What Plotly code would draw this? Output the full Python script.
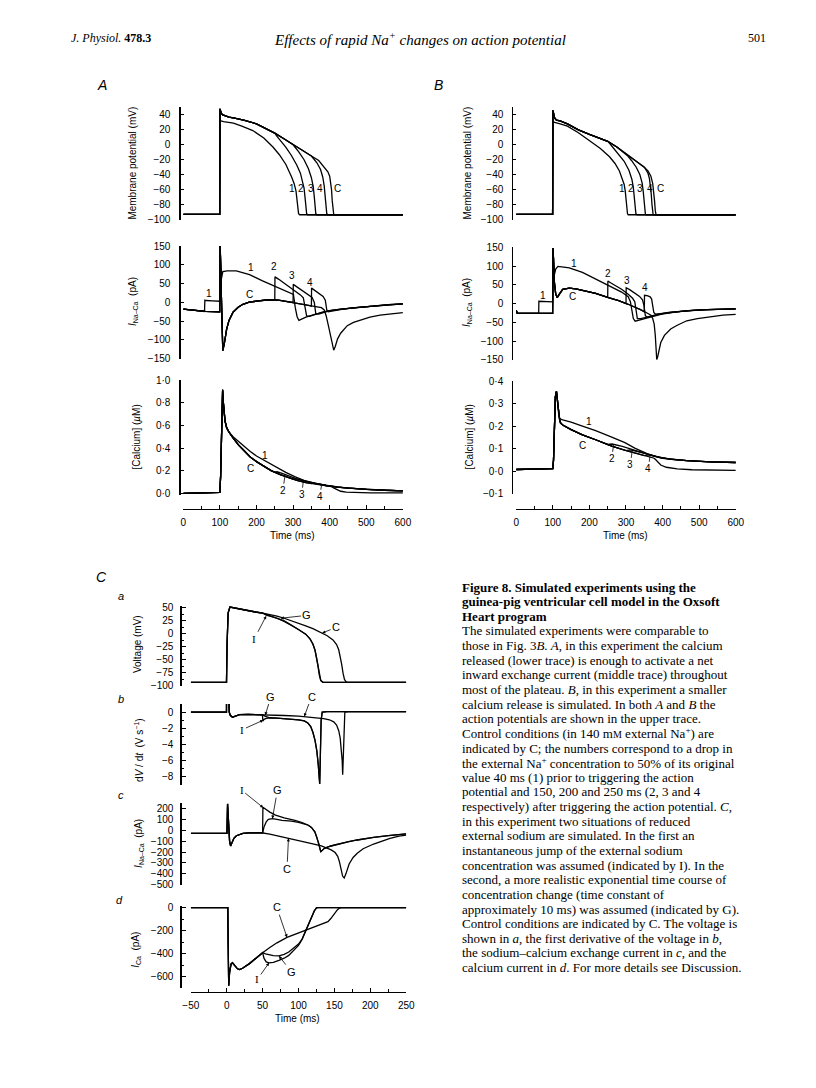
import plotly.graph_objects as go

W, H = 816, 1088


def fx(px):
    return px / W


def fy(py):
    return 1 - py / H


# ======================= DATA =======================
# ---------- Panel A : membrane potential (mV) ----------
VA_C_t = [0, 99.5, 100.3, 101.5, 104, 108, 115, 125, 140, 165, 200, 225, 250, 275, 300, 325, 350, 370, 386,
          395, 400, 403, 405, 407, 409, 411, 414, 600]
VA_C_v = [-93, -93, 48, 46, 42, 40, 38.5, 37, 35.5, 33, 28, 22, 15.5, 8, 0, -7, -15, -21, -30,
          -36, -42, -50, -60, -75, -88, -93, -93.5, -93.5]
VA_1_t = [0, 99.5, 100.3, 103, 110, 125, 137, 160, 190, 220, 245, 262, 280, 296, 303, 308, 311, 313, 315, 318, 600]
VA_1_v = [-93, -93, 33, 32, 31, 30, 29, 25, 19, 9, -3, -13, -26, -43, -52, -62, -75, -87, -92, -93.5, -93.5]
VA_2_t = [250, 255, 265, 280, 295, 310, 320, 326, 330, 333, 335, 337, 340, 600]
VA_2_v = [15.5, 12, 6, -3, -14, -27, -38, -48, -58, -72, -85, -92, -93.5, -93.5]
VA_3_t = [300, 305, 315, 330, 342, 350, 355, 358, 360, 362, 365, 600]
VA_3_v = [0, -3, -9, -20, -32, -44, -56, -70, -85, -92, -93.5, -93.5]
VA_4_t = [350, 355, 365, 375, 381, 385, 388, 390, 392, 395, 600]
VA_4_v = [-15, -18, -24, -33, -43, -55, -70, -85, -92, -93.5, -93.5]

# ---------- Panel A : I Na-Ca (pA) ----------
IA_C_t = [0, 30, 60, 99.5, 100.8, 104, 108, 112, 118.5, 125, 136, 150, 163, 180, 199, 234, 260, 288, 315, 342, 365,
          377.5, 385, 390.5, 396, 402, 407, 411, 415, 421.6, 430, 448, 465, 484, 510, 537.7, 570, 600]
IA_C_v = [-18, -21, -24, -25, 150, 20, -128, -110, -71, -48, -26, -13, -5, 1, 3.5, 7, 6, 2, -3, -8, -12,
          -14, -20, -36, -60, -88, -115, -127, -118, -97, -82, -62, -53, -46.5, -39, -34, -30, -27]
IA_1_t = [0, 30, 58, 59, 62, 80, 99.5, 100.8, 104, 108, 120, 145, 181, 215, 248, 275, 301, 306, 311, 316, 322,
          335, 359, 380, 395, 420, 450, 484, 520, 560, 600]
IA_1_v = [-18, -21, -24, 6, 5, 4, 3, 150, 62, 82, 84, 84, 74, 58, 43, 31, 21, -14, -38, -48, -45,
          -39, -32, -26, -23, -19, -16, -14, -10, -6, -4]
IA_2_t = [250, 250.5, 260, 275, 290, 305, 320, 328, 333, 337, 345, 360, 380, 400, 430, 470, 520, 560, 600]
IA_2_v = [6, 68, 62, 52, 42, 31, 20, 12, -10, -36, -37, -32, -26, -22, -18, -14, -10, -6, -4]
IA_3_t = [300, 300.5, 310, 325, 340, 352, 358, 362, 370, 385, 400, 430, 470, 520, 560, 600]
IA_3_v = [0, 48, 42, 32, 22, 13, 0, -30, -31, -26, -22, -18, -14, -10, -6, -4]
IA_4_t = [350, 350.5, 360, 372, 382, 388, 392, 396, 405, 420, 440, 470, 520, 560, 600]
IA_4_v = [-10, 38, 32, 24, 16, 6, -20, -25, -23, -20, -17, -14, -10, -6, -4]

# ---------- Panel A : [Calcium] (uM) ----------
CA_C_t = [0, 50, 100, 102, 104, 106, 107.5, 109, 111, 114, 118.5, 125, 136, 150, 165, 183, 200, 217, 240, 265,
          290, 310, 335, 360, 385, 405, 412, 420, 430, 445, 470, 510, 560, 600]
CA_C_v = [0, 0.003, 0.008, 0.15, 0.55, 0.88, 0.91, 0.82, 0.72, 0.64, 0.58, 0.54, 0.49, 0.43, 0.38, 0.32, 0.28,
          0.245, 0.2, 0.165, 0.135, 0.115, 0.095, 0.08, 0.068, 0.058, 0.045, 0.03, 0.018, 0.01, 0.006, 0.004,
          0.003, 0.003]
CA_1_t = [0, 50, 100, 102, 104, 106, 107.5, 109, 111, 114, 118.5, 125, 136, 150, 165, 183, 200, 222, 250, 280,
          306, 330, 359, 390, 420, 450, 500, 550, 600]
CA_1_v = [0, 0.003, 0.008, 0.15, 0.55, 0.88, 0.92, 0.82, 0.72, 0.64, 0.58, 0.54, 0.5, 0.46, 0.42, 0.37, 0.33,
          0.29, 0.235, 0.185, 0.145, 0.115, 0.09, 0.07, 0.055, 0.045, 0.035, 0.027, 0.022]
CA_2_t = [250, 256, 270, 290, 310, 335, 360, 390, 420, 450, 500, 550, 600]
CA_2_v = [0.186, 0.19, 0.175, 0.15, 0.128, 0.105, 0.086, 0.069, 0.055, 0.045, 0.035, 0.027, 0.022]
CA_3_t = [300, 306, 320, 340, 360, 390, 420, 450, 500, 550, 600]
CA_3_v = [0.125, 0.13, 0.118, 0.1, 0.086, 0.069, 0.055, 0.045, 0.035, 0.027, 0.022]
CA_4_t = [350, 356, 370, 390, 420, 450, 500, 550, 600]
CA_4_v = [0.086, 0.09, 0.08, 0.069, 0.055, 0.045, 0.035, 0.027, 0.022]

# ---------- Panel B : membrane potential (mV) ----------
VB_C_t = [0, 99.5, 100.3, 102, 105, 110, 120, 140, 170, 200, 230, 250, 275, 300, 325, 350, 360, 368, 373, 376,
          378, 380, 382, 385, 600]
VB_C_v = [-93, -93, 46, 40, 36, 33, 32, 28, 20, 14, 8, 4.7, -3, -12, -20, -30, -35, -42, -52, -62,
          -75, -88, -93, -93.5, -93.5]
VB_1_t = [0, 99.5, 100.3, 105, 120, 140, 170, 200, 230, 255, 270, 282, 290, 295, 298, 300, 302, 304, 306, 600]
VB_1_v = [-93, -93, 31, 30, 28, 25, 16, 6, -5, -16, -25, -35, -45, -53, -62, -72, -85, -92, -93.5, -93.5]
VB_2_t = [250, 255, 265, 280, 295, 308, 316, 320, 323, 325, 327, 330, 600]
VB_2_v = [4.7, 2, -4, -12, -22, -34, -46, -57, -70, -84, -92, -93.5, -93.5]
VB_3_t = [300, 305, 315, 328, 338, 344, 347, 349, 351, 353, 356, 600]
VB_3_v = [-12, -15, -21, -30, -40, -51, -62, -75, -88, -93, -93.5, -93.5]
VB_4_t = [350, 354, 360, 364, 367, 369, 371, 372.5, 374, 377, 600]
VB_4_v = [-30, -33, -38, -45, -55, -66, -80, -90, -93, -93.5, -93.5]

# ---------- Panel B : I Na-Ca (pA) ----------
IB_C_t = [0, 3, 30, 60, 99.5, 100.8, 104, 108, 112, 118, 127, 145, 163, 190, 217, 252, 280, 306, 325, 341, 355,
          368, 373, 377, 380, 382, 384, 387, 390, 395, 405, 422, 440, 466, 495, 528.7, 565, 600]
IB_C_v = [-18, -26, -26, -26, -26, 148, 60, 25, 16, 25, 38, 41, 39, 33, 27, 16, 8, -2, -9, -17, -24,
          -31, -40, -55, -85, -125, -150, -140, -125, -104, -85, -68, -58, -46, -40, -35, -31, -29]
IB_1_t = [0, 3, 30, 61.5, 62, 80, 99.5, 100.8, 104, 108, 114, 130, 145, 181, 217, 252, 288, 306, 312, 316.5,
          320, 325, 335, 359, 380, 395, 420, 450, 500, 550, 600]
IB_1_v = [-18, -26, -26, -26, 6, 5, 4.5, 148, 75, 92, 99, 97, 95, 83, 66, 48, 30.6, 18, 5, -20,
          -40, -47, -44, -38, -33, -29, -25, -21, -17, -15, -14]
IB_2_t = [250, 250.5, 260, 275, 288, 306, 318, 324, 327, 331, 340, 359, 380, 400, 430, 470, 520, 600]
IB_2_v = [16.5, 60, 54, 45, 38, 24.5, 14, 5, -20, -40, -40, -36, -31, -27, -23, -19, -16, -14]
IB_3_t = [300, 300.5, 310, 325, 337, 345, 349, 353, 358, 370, 390, 420, 470, 520, 600]
IB_3_v = [0, 42, 37, 28, 19, 10, -5, -33, -36, -33, -28, -23, -19, -16, -14]
IB_4_t = [350, 350.5, 358, 366, 370, 373, 376, 380, 390, 410, 440, 480, 530, 600]
IB_4_v = [-22, 22, 21, 18, 12, -5, -24, -28, -27, -24, -21, -18, -16, -14]

# ---------- Panel B : [Calcium] (uM) ----------
CB_C_t = [0, 50, 100, 102, 104, 107, 110, 113, 116, 118.6, 121, 127, 150, 181, 217, 261, 306, 340, 359, 377,
          382, 387, 395, 410, 440, 480, 528, 600]
CB_C_v = [0.008, 0.009, 0.012, 0.05, 0.2, 0.33, 0.355, 0.3, 0.25, 0.23, 0.215, 0.205, 0.185, 0.162, 0.14,
          0.112, 0.089, 0.075, 0.067, 0.058, 0.05, 0.04, 0.028, 0.018, 0.011, 0.007, 0.005, 0.004]
CB_1_t = [0, 50, 100, 102, 104, 107, 110, 113, 116, 118.6, 121, 127, 150, 181, 217, 261, 297, 324, 359, 395,
          430, 466, 530, 600]
CB_1_v = [0.008, 0.009, 0.012, 0.05, 0.2, 0.33, 0.355, 0.3, 0.255, 0.238, 0.232, 0.228, 0.218, 0.2, 0.18,
          0.152, 0.127, 0.103, 0.077, 0.06, 0.052, 0.047, 0.042, 0.039]
CB_2_t = [250, 262, 290, 327, 350, 380, 420, 466, 530, 600]
CB_2_v = [0.119, 0.121, 0.111, 0.092, 0.08, 0.066, 0.054, 0.047, 0.042, 0.039]
CB_3_t = [300, 312, 340, 360, 390, 420, 466, 530, 600]
CB_3_v = [0.092, 0.095, 0.084, 0.075, 0.063, 0.054, 0.047, 0.042, 0.039]
CB_4_t = [350, 362, 380, 400, 430, 466, 530, 600]
CB_4_v = [0.07, 0.073, 0.066, 0.058, 0.052, 0.047, 0.042, 0.039]

# ---------- Panel C a : voltage (mV) ----------
VC_C_t = [-50, -0.3, 0.5, 2, 4.5, 8, 13.5, 20, 31.7, 40, 50, 60, 70, 80, 90, 100, 110, 120, 130, 140, 148,
          153, 156, 158, 160, 162, 164, 166, 168, 250]
VC_C_v = [-93.5, -93.5, -20, 40, 51, 50, 48, 46, 43.5, 41.5, 39.5, 37, 33.5, 29.5, 25, 20.5, 15, 9.5, 3, -4,
          -12, -21, -31, -42, -58, -76, -88, -92, -93.5, -93.5]
VC_I_t = [50, 55, 60, 70, 80, 90, 100, 110, 116, 120, 123, 125, 127, 129, 131, 134, 250]
VC_I_v = [39.5, 35.5, 33.5, 29.5, 23.5, 16, 8, -1, -10, -20, -32, -45, -62, -80, -90, -93.5, -93.5]
VC_G_t = [50, 55, 60, 70, 80, 90, 100, 110, 116, 120, 123, 125, 127, 129, 131, 134, 250]
VC_G_v = [39.5, 37, 35, 30.5, 24.5, 16.5, 8, -1, -10, -20, -32, -45, -62, -80, -90, -93.5, -93.5]

# ---------- Panel C b : dV/dt (V/s) ----------
DC_C_t = [-50, -0.3, 0, 2.5, 3.5, 5, 8, 12, 18, 30, 45, 60, 80, 100, 113, 125, 135, 143, 149, 153, 156, 158,
          159.5, 160.8, 161.5, 162.5, 163.5, 164.5, 170, 250]
DC_C_v = [0, 0, 12, 12, 0, -0.4, -0.65, -0.5, -0.32, -0.28, -0.3, -0.35, -0.42, -0.5, -0.58, -0.68, -0.8,
          -0.95, -1.2, -1.6, -2.3, -3.2, -4.5, -6, -7.75, -5, -2, 0, 0.05, 0.05]
DC_I_t = [49.8, 50.3, 52, 55, 60, 70, 80, 90, 100, 108, 113, 117, 120, 123, 125.5, 127.5, 129.5, 130.5, 131.5,
          133, 140, 250]
DC_I_v = [-0.35, -1.1, -0.9, -0.78, -0.72, -0.74, -0.78, -0.84, -0.95, -1.1, -1.35, -1.8, -2.5, -3.5, -4.8,
          -6.5, -8.9, -5, -1, 0, 0.06, 0.05]
DC_G_t = [50, 53, 56, 60, 70, 80, 90, 100, 108, 113, 117, 120, 123, 125.5, 127.5, 129.5, 130.5, 131.5, 133,
          140, 250]
DC_G_v = [-0.35, -0.5, -0.62, -0.7, -0.74, -0.78, -0.84, -0.95, -1.1, -1.35, -1.8, -2.5, -3.5, -4.8, -6.5,
          -8.9, -5, -1, 0, 0.06, 0.05]

# ---------- Panel C c : I Na-Ca (pA) ----------
NC_C_t = [-50, 0.3, 1.2, 2.5, 4, 5.4, 7, 10, 13.5, 18, 22.6, 31.7, 40, 48.5, 60, 70, 80, 90, 100, 110, 120,
          131.8, 140, 145.5, 151, 154.6, 157, 159, 161.4, 163.6, 166, 170.5, 176, 181.8, 190, 204.6, 215, 227.4,
          240, 250]
NC_C_v = [-30, -30, 240, 60, -100, -145, -120, -75, -51, -38, -30, -25, -24, -24, -36, -50, -65, -80, -96,
          -112, -126, -145, -165, -181, -205, -240, -290, -350, -420, -437, -400, -310, -250, -211, -170, -127,
          -100, -75, -55, -45]
NC_I_t = [48.5, 50, 50.4, 55, 60, 68, 80, 95, 105, 113.6, 118, 122.7, 125, 128.2, 130, 131, 133, 136, 145,
          159, 170, 181.8, 195, 204.6, 225, 250]
NC_I_v = [-24, -24, 210, 185, 165, 137, 112, 90, 70, 45, 25, -15, -55, -121, -170, -198, -185, -166, -145,
          -121, -105, -90, -75, -66, -50, -34]
NC_G_t = [50, 52, 55, 58, 63.6, 70, 77, 90, 100, 110, 113.6, 118, 122.7, 125, 128.2, 130, 131, 133, 136, 145,
          159, 170, 181.8, 195, 204.6, 225, 250]
NC_G_v = [-24, 30, 75, 98, 106, 98, 90, 83, 72, 52, 45, 25, -15, -55, -121, -170, -198, -185, -166, -145,
          -121, -105, -90, -75, -66, -50, -34]

# ---------- Panel C d : I Ca (pA) ----------
KC_C_t = [-50, 1.5, 2, 2.8, 4, 6, 8, 11, 15, 18, 22, 31.7, 40, 50, 60, 70, 84, 95, 109, 122, 136, 141, 145,
          150, 154, 157, 160, 250]
KC_C_v = [0, 0, -300, -677, -560, -490, -478, -500, -530, -537, -525, -485, -440, -390, -345, -305, -258,
          -232, -200, -170, -135, -122, -95, -50, -20, -4, 0, 0]
KC_I_t = [50, 52, 55, 59, 65, 72.7, 80, 86.4, 93, 100, 105, 109, 113, 116, 119, 122, 125, 127, 250]
KC_I_v = [-390, -440, -470, -478, -475, -457, -438, -414, -375, -328, -275, -214, -150, -114, -65, -29, -3, 0, 0]
KC_G_t = [50, 54, 59, 65, 72.7, 80, 86.4, 93, 100, 105, 109, 113, 116, 119, 122, 125, 127, 250]
KC_G_v = [-390, -400, -408, -415, -418, -405, -385, -355, -316, -272, -214, -150, -114, -65, -29, -3, 0, 0]

# ---------- tick labels ----------
V_TICKS = [-100, -80, -60, -40, -20, 0, 20, 40]
I_TICKS = [-150, -100, -50, 0, 50, 100, 150]
CA_A_TICKS = [0, 0.2, 0.4, 0.6, 0.8, 1.0]
CA_A_TEXT = ['0·0', '0·2', '0·4', '0·6', '0·8', '1·0']
CA_B_TICKS = [-0.1, 0, 0.1, 0.2, 0.3, 0.4]
CA_B_TEXT = ['−0·1', '0·0', '0·1', '0·2', '0·3', '0·4']
T_AB_TICKS = [0, 100, 200, 300, 400, 500, 600]
C_V_TICKS = [-100, -75, -50, -25, 0, 25, 50]
C_D_TICKS = [-8, -6, -4, -2, 0]
C_N_TICKS = [-500, -400, -300, -200, -100, 0, 100, 200]
C_K_TICKS = [-600, -400, -200, 0]
T_C_TICKS = [-50, 0, 50, 100, 150, 200, 250]

# ======================= GEOMETRY =======================
# subplot: x range, x pixel span, y range, y pixel span (bottom, top), y-axis x pixel
SUB = {
    1: dict(xr=(0, 600), xp=(179, 403.3), yr=(-100, 50), yp=(216, 102.5), ax=175),
    2: dict(xr=(0, 600), xp=(179, 403.3), yr=(-150, 150), yp=(356.7, 242.7), ax=175),
    3: dict(xr=(0, 600), xp=(179, 403.3), yr=(-0.012, 1.0), yp=(494.1, 378.3), ax=175),
    4: dict(xr=(0, 600), xp=(519, 743.3), yr=(-100, 50), yp=(216, 102.5), ax=515),
    5: dict(xr=(0, 600), xp=(519, 743.3), yr=(-150, 150), yp=(357.7, 244), ax=515),
    6: dict(xr=(0, 600), xp=(519, 743.3), yr=(-0.1, 0.4), yp=(493.3, 379.3), ax=515),
    7: dict(xr=(-50, 250), xp=(186.7, 406.7), yr=(-100, 53), yp=(687.3, 606.7), ax=176),
    8: dict(xr=(-50, 250), xp=(186.7, 406.7), yr=(-9, 1), yp=(787.5, 705.8), ax=176),
    9: dict(xr=(-50, 250), xp=(186.7, 406.7), yr=(-500, 250), yp=(888.6, 805.7), ax=176),
    10: dict(xr=(-50, 250), xp=(186.7, 406.7), yr=(-700, 15), yp=(993.4, 909.9), ax=176),
}


def axn(k):
    return ('x', 'y') if k == 1 else (f'x{k}', f'y{k}')


def to_px(k, t, v):
    s = SUB[k]
    x = s['xp'][0] + (t - s['xr'][0]) / (s['xr'][1] - s['xr'][0]) * (s['xp'][1] - s['xp'][0])
    y = s['yp'][0] + (v - s['yr'][0]) / (s['yr'][1] - s['yr'][0]) * (s['yp'][1] - s['yp'][0])
    return x, y


def branch(tc, vc, tb, vb):
    pre = [(a, b) for a, b in zip(tc, vc) if a < tb[0]]
    return [a for a, _ in pre] + list(tb), [b for _, b in pre] + list(vb)


fig = go.Figure()


def add(k, t, v):
    xa, ya = axn(k)
    fig.add_trace(go.Scatter(x=t, y=v, mode='lines', line=dict(color='black', width=1.3),
                             xaxis=xa, yaxis=ya, showlegend=False, hoverinfo='skip'))


# Panel A
add(1, VA_C_t, VA_C_v)
add(1, VA_1_t, VA_1_v)
for tb, vb in [(VA_2_t, VA_2_v), (VA_3_t, VA_3_v), (VA_4_t, VA_4_v)]:
    add(1, *branch(VA_C_t, VA_C_v, tb, vb))
add(2, IA_C_t, IA_C_v)
add(2, IA_1_t, IA_1_v)
for tb, vb in [(IA_2_t, IA_2_v), (IA_3_t, IA_3_v), (IA_4_t, IA_4_v)]:
    add(2, *branch(IA_C_t, IA_C_v, tb, vb))
add(3, CA_C_t, CA_C_v)
add(3, CA_1_t, CA_1_v)
for tb, vb in [(CA_2_t, CA_2_v), (CA_3_t, CA_3_v), (CA_4_t, CA_4_v)]:
    add(3, *branch(CA_C_t, CA_C_v, tb, vb))
# Panel B
add(4, VB_C_t, VB_C_v)
add(4, VB_1_t, VB_1_v)
for tb, vb in [(VB_2_t, VB_2_v), (VB_3_t, VB_3_v), (VB_4_t, VB_4_v)]:
    add(4, *branch(VB_C_t, VB_C_v, tb, vb))
add(5, IB_C_t, IB_C_v)
add(5, IB_1_t, IB_1_v)
for tb, vb in [(IB_2_t, IB_2_v), (IB_3_t, IB_3_v), (IB_4_t, IB_4_v)]:
    add(5, *branch(IB_C_t, IB_C_v, tb, vb))
add(6, CB_C_t, CB_C_v)
add(6, CB_1_t, CB_1_v)
for tb, vb in [(CB_2_t, CB_2_v), (CB_3_t, CB_3_v), (CB_4_t, CB_4_v)]:
    add(6, *branch(CB_C_t, CB_C_v, tb, vb))
# Panel C
add(7, VC_C_t, VC_C_v)
add(7, *branch(VC_C_t, VC_C_v, VC_I_t, VC_I_v))
add(7, *branch(VC_C_t, VC_C_v, VC_G_t, VC_G_v))
add(8, DC_C_t, DC_C_v)
add(8, *branch(DC_C_t, DC_C_v, DC_I_t, DC_I_v))
add(8, *branch(DC_C_t, DC_C_v, DC_G_t, DC_G_v))
add(9, NC_C_t, NC_C_v)
add(9, *branch(NC_C_t, NC_C_v, NC_I_t, NC_I_v))
add(9, *branch(NC_C_t, NC_C_v, NC_G_t, NC_G_v))
add(10, KC_C_t, KC_C_v)
add(10, *branch(KC_C_t, KC_C_v, KC_I_t, KC_I_v))
add(10, *branch(KC_C_t, KC_C_v, KC_G_t, KC_G_v))

# ======================= AXES =======================
SANS = 'Liberation Sans, Arial, Helvetica, sans-serif'
SERIF = 'Liberation Serif, Times New Roman, serif'
TICKFONT = dict(family=SANS, size=10, color='black')

YTICKS = {
    1: dict(tickvals=V_TICKS),
    2: dict(tickvals=I_TICKS),
    3: dict(tickvals=CA_A_TICKS, ticktext=CA_A_TEXT),
    4: dict(tickvals=V_TICKS),
    5: dict(tickvals=I_TICKS),
    6: dict(tickvals=CA_B_TICKS, ticktext=CA_B_TEXT),
    7: dict(tickvals=C_V_TICKS, minor=dict(tickvals=[-87.5, -62.5, -37.5, -12.5, 12.5, 37.5], ticks='inside',
                                           ticklen=2.5, tickcolor='black')),
    8: dict(tickvals=C_D_TICKS, minor=dict(tickvals=[-9, -7, -5, -3, -1, 1], ticks='inside', ticklen=2.5,
                                           tickcolor='black')),
    9: dict(tickvals=C_N_TICKS),
    10: dict(tickvals=C_K_TICKS, minor=dict(tickvals=[-700, -500, -300, -100], ticks='inside', ticklen=2.5,
                                            tickcolor='black')),
}

layout_axes = {}
for k, s in SUB.items():
    xname = 'xaxis' if k == 1 else f'xaxis{k}'
    yname = 'yaxis' if k == 1 else f'yaxis{k}'
    xd = dict(domain=[fx(s['xp'][0]), fx(s['xp'][1])], range=list(s['xr']), showgrid=False, zeroline=False,
              fixedrange=True)
    if k in (3, 6, 10):
        if k == 10:
            tv, mv, pos = T_C_TICKS, [-25, 25, 75, 125, 175, 225], 996.7
        else:
            tv, mv, pos = T_AB_TICKS, [50, 150, 250, 350, 450, 550], 508.3
        xd.update(anchor='free', position=fy(pos), showline=True, linecolor='black', linewidth=1.2,
                  ticks='inside', ticklen=4, tickwidth=1, tickcolor='black', tickvals=tv,
                  minor=dict(tickvals=mv, ticks='inside', ticklen=2.5, tickcolor='black'),
                  tickfont=TICKFONT, ticklabelstandoff=4)
    else:
        xd.update(visible=False)
    layout_axes[xname] = xd
    yd = dict(domain=[fy(s['yp'][0]), fy(s['yp'][1])], range=list(s['yr']), anchor='free',
              position=fx(s['ax']), showline=True, linecolor='black', linewidth=1.2, ticks='inside',
              ticklen=4 if k >= 7 else 3, tickwidth=1, tickcolor='black', showgrid=False, zeroline=False,
              tickfont=TICKFONT, ticklabelstandoff=(5 if k >= 7 else 7), fixedrange=True)
    yd.update(YTICKS[k])
    layout_axes[yname] = yd

fig.update_layout(**layout_axes)

# ======================= ANNOTATIONS =======================
ann = []


def ptext(px, py, text, size=10, family=SANS, angle=0, xanchor='center', color='black'):
    ann.append(dict(xref='paper', yref='paper', x=fx(px), y=fy(py), text=text, showarrow=False,
                    xanchor=xanchor, yanchor='middle', textangle=angle,
                    font=dict(family=family, size=size, color=color)))


def dtext(k, t, v, text, size=10, family=SANS):
    xa, ya = axn(k)
    ann.append(dict(xref=xa, yref=ya, x=t, y=v, text=text, showarrow=False, xanchor='center',
                    yanchor='middle', font=dict(family=family, size=size, color='black')))


def arrow(k, t_tip, v_tip, t_lab, v_lab, text, size=11, family=SANS, head=2):
    xa, ya = axn(k)
    x0, y0 = to_px(k, t_tip, v_tip)
    x1, y1 = to_px(k, t_lab, v_lab)
    ann.append(dict(xref=xa, yref=ya, x=t_tip, y=v_tip, ax=x1 - x0, ay=y1 - y0, text=text, showarrow=True,
                    arrowhead=head, arrowsize=0.8, arrowwidth=0.8, arrowcolor='black', standoff=0,
                    font=dict(family=family, size=size, color='black')))


# header
ptext(105, 32, '<i>J. Physiol.</i> <b>478.3</b>', size=12, family=SERIF)
ptext(421, 33, '<i>Effects of rapid Na<sup>+</sup> changes on action potential</i>', size=15, family=SERIF)
ptext(765, 32, '501', size=12, family=SERIF)

# panel letters
ptext(96, 80, '<i>A</i>', size=14)
ptext(440, 80, '<i>B</i>', size=14)
ptext(95, 577, '<i>C</i>', size=14)
ptext(115, 597, '<i>a</i>', size=11)
ptext(115, 701, '<i>b</i>', size=11)
ptext(115, 798, '<i>c</i>', size=11)
ptext(114, 904, '<i>d</i>', size=11)

# y-axis titles
for px, py, txt in [
    (127, 159, 'Membrane potential (mV)'),
    (127, 299, '<i>I</i><sub>Na–Ca</sub>  (pA)'),
    (131, 436, '[Calcium] (<i>µ</i>M)'),
    (469, 159, 'Membrane potential (mV)'),
    (468, 300, '<i>I</i><sub>Na–Ca</sub>  (pA)'),
    (471, 436, '[Calcium] (<i>µ</i>M)'),
    (133, 645, 'Voltage (mV)'),
    (133, 752, 'd<i>V</i> / d<i>t</i>  (V s<sup>−1</sup>)'),
    (133, 847, '<i>I</i><sub>Na–Ca</sub>  (pA)'),
    (131, 954, '<i>I</i><sub>Ca</sub>  (pA)'),
]:
    ptext(px, py, txt, size=10, angle=-90)

# time-axis titles
ptext(291, 535, 'Time (ms)', size=10)
ptext(631, 535, 'Time (ms)', size=10)
ptext(296, 1024, 'Time (ms)', size=10)

# trace labels panel A
for t, v, s in [(297, -59, '1'), (321.5, -59, '2'), (347.7, -59, '3'), (374, -59, '4'), (421, -59, 'C')]:
    dtext(1, t, v, s)
for t, v, s in [(71, 23, '1'), (185, 92, '1'), (181, 21, 'C'), (248, 96, '2'), (297, 71, '3'), (346, 54, '4'),
                (408, -165, 'C')]:
    dtext(2, t, v, s)
for t, v, s in [(222, 0.33, '1'), (183, 0.222, 'C')]:
    dtext(3, t, v, s)
for tt, vt, tl, vl, s in [(278, 0.158, 272, 0.024, '2'), (328, 0.108, 323.6, -0.011, '3'),
                          (378, 0.076, 372.7, -0.029, '4')]:
    arrow(3, tt, vt, tl, vl, s, size=10, head=0)
# trace labels panel B
for t, v, s in [(289.7, -59, '1'), (314.6, -59, '2'), (339.6, -59, '3'), (366, -59, '4'), (393.6, -59, 'C')]:
    dtext(4, t, v, s)
for t, v, s in [(74, 22, '1'), (159, 108, '1'), (154, 20, 'C'), (252, 79, '2'), (303, 62, '3'), (352, 44, '4'),
                (381.5, -169, 'C')]:
    dtext(5, t, v, s)
for t, v, s in [(200, 0.222, '1'), (181, 0.116, 'C')]:
    dtext(6, t, v, s)
for tt, vt, tl, vl, s in [(266, 0.118, 261, 0.056, '2'), (317, 0.093, 312, 0.029, '3'),
                          (366, 0.072, 361, 0.012, '4')]:
    arrow(6, tt, vt, tl, vl, s, size=10, head=0)

# labels panel C with arrows
arrow(7, 75, 29.5, 111, 35, 'G')
arrow(7, 133, 1, 152, 12, 'C')
arrow(7, 55, 34, 39, -9, 'I', family=SERIF)
arrow(8, 53.6, -0.4, 61.5, 1.9, 'G')
arrow(8, 108, -0.55, 118, 1.9, 'C')
arrow(8, 51, -1.0, 22.5, -2.15, 'I', family=SERIF)
arrow(9, 51, 205, 21.5, 363, 'I', family=SERIF)
arrow(9, 63.6, 105, 70.5, 363, 'G')
arrow(9, 86, -74, 84, -355, 'C')
arrow(10, 84, -258, 70, 1.0, 'C')
arrow(10, 59, -478, 43, -620, 'I', family=SERIF)
arrow(10, 72.7, -418, 90, -557, 'G')

# caption
CAPTION = [
    '<b>Figure 8. Simulated experiments using the</b>',
    '<b>guinea-pig ventricular cell model in the Oxsoft</b>',
    '<b>Heart program</b>',
    'The simulated experiments were comparable to',
    'those in Fig. 3<i>B</i>. <i>A</i>, in this experiment the calcium',
    'released (lower trace) is enough to activate a net',
    'inward exchange current (middle trace) throughout',
    'most of the plateau. <i>B</i>, in this experiment a smaller',
    'calcium release is simulated. In both <i>A</i> and <i>B</i> the',
    'action potentials are shown in the upper trace.',
    'Control conditions (in 140 m<span style="font-size:10px">M</span> external Na<sup>+</sup>) are',
    'indicated by C; the numbers correspond to a drop in',
    'the external Na<sup>+</sup> concentration to 50% of its original',
    'value 40 ms (1) prior to triggering the action',
    'potential and 150, 200 and 250 ms (2, 3 and 4',
    'respectively) after triggering the action potential. <i>C</i>,',
    'in this experiment two situations of reduced',
    'external sodium are simulated. In the first an',
    'instantaneous jump of the external sodium',
    'concentration was assumed (indicated by I). In the',
    'second, a more realistic exponential time course of',
    'concentration change (time constant of',
    'approximately 10 ms) was assumed (indicated by G).',
    'Control conditions are indicated by C. The voltage is',
    'shown in <i>a</i>, the first derivative of the voltage in <i>b</i>,',
    'the sodium–calcium exchange current in <i>c</i>, and the',
    'calcium current in <i>d</i>. For more details see Discussion.',
]
for i, line in enumerate(CAPTION):
    ptext(461.7, 587.5 + 14.8 * i, line, size=13, family=SERIF, xanchor='left')

fig.update_layout(annotations=ann, width=W, height=H, autosize=False,
                  margin=dict(l=0, r=0, t=0, b=0, pad=0),
                  paper_bgcolor='white', plot_bgcolor='white', showlegend=False)

fig.write_html('out.html', config={'displayModeBar': False, 'staticPlot': True},
               post_script="document.body.style.margin='0px';document.body.style.overflow='hidden';")
